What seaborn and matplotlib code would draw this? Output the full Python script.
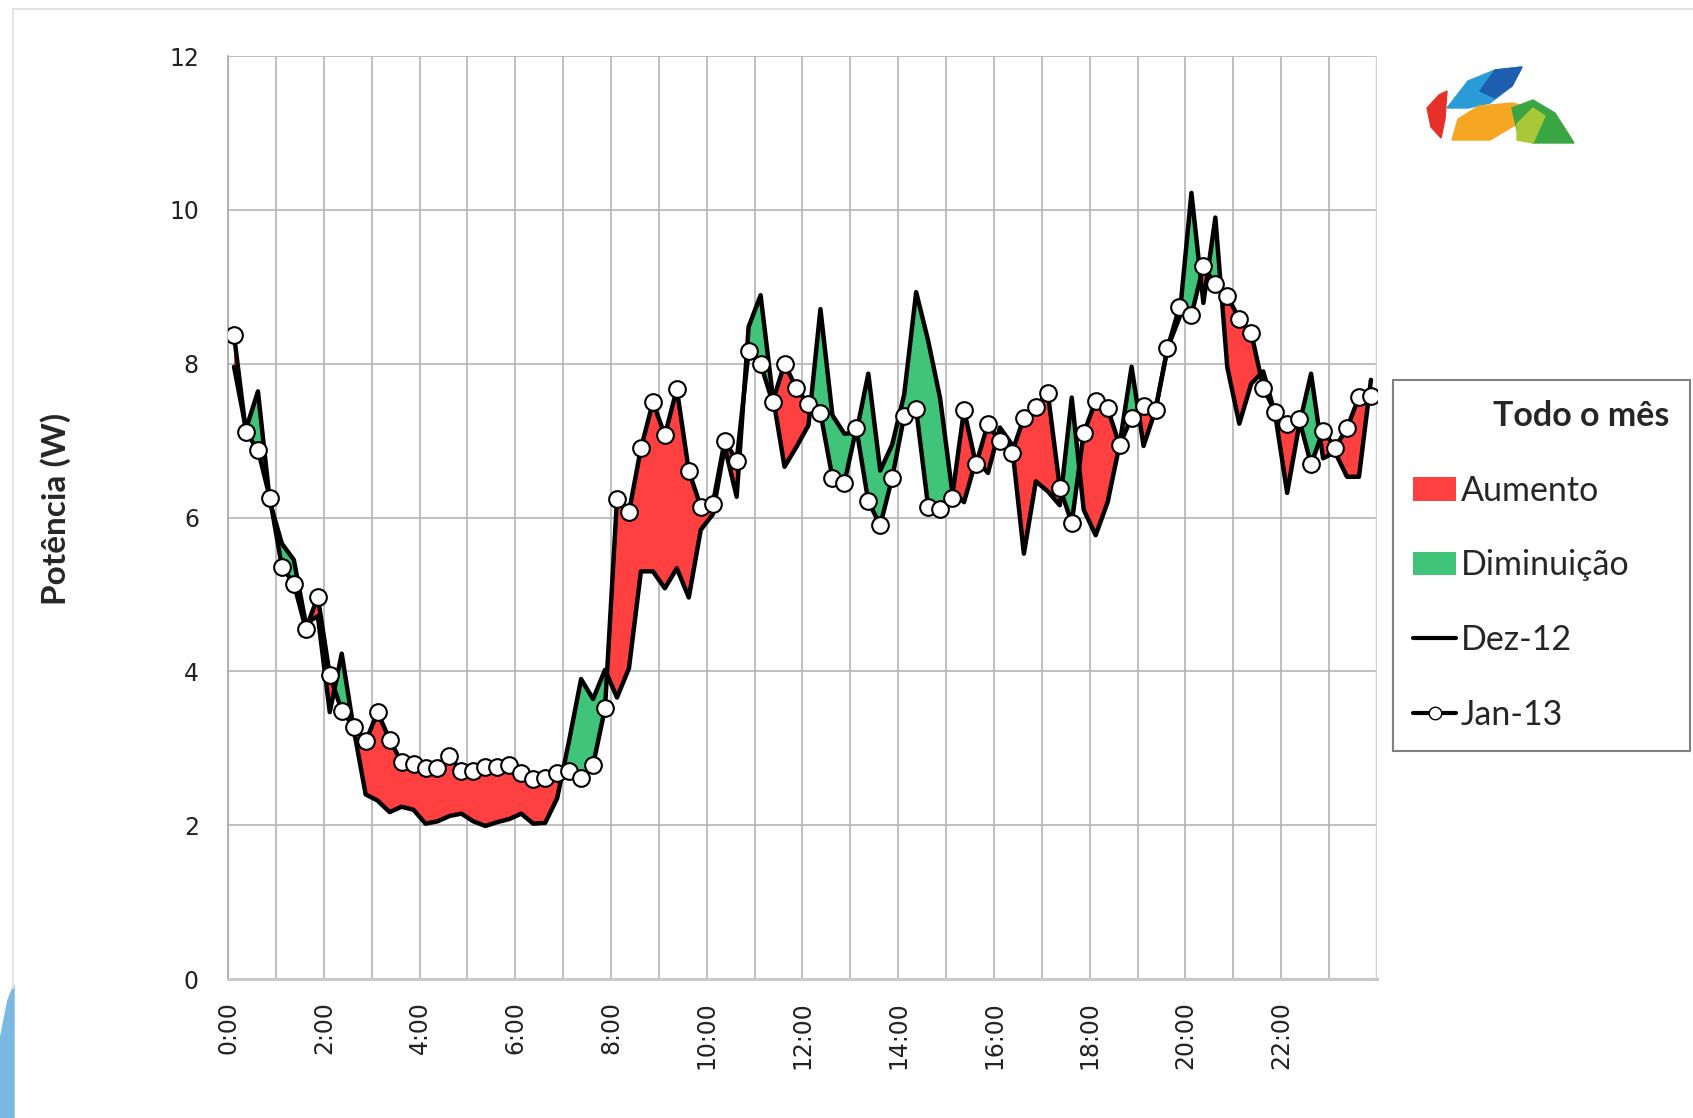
import matplotlib
matplotlib.use("Agg")
import matplotlib.pyplot as plt
import numpy as np
import seaborn as sns
from matplotlib.lines import Line2D
from matplotlib.patches import Patch, Polygon

# 15-minute readings, plotted at the centre of each slot
hours = np.arange(96) / 4 + 0.125

jan13 = [8.37, 7.11, 6.88, 6.25, 5.36, 5.14, 4.55, 4.97, 3.95, 3.49, 3.28, 3.09,
         3.47, 3.11, 2.82, 2.79, 2.74, 2.74, 2.90, 2.70, 2.70, 2.76, 2.76, 2.78,
         2.68, 2.60, 2.62, 2.68, 2.71, 2.61, 2.78, 3.52, 6.24, 6.07, 6.90, 7.50,
         7.07, 7.67, 6.61, 6.14, 6.17, 7.00, 6.74, 8.16, 8.00, 7.50, 8.00, 7.68,
         7.47, 7.36, 6.52, 6.45, 7.16, 6.21, 5.90, 6.52, 7.32, 7.41, 6.14, 6.11,
         6.26, 7.40, 6.69, 7.22, 6.99, 6.84, 7.30, 7.44, 7.62, 6.39, 5.93, 7.10,
         7.51, 7.42, 6.94, 7.30, 7.45, 7.40, 8.20, 8.74, 8.63, 9.27, 9.03, 8.88,
         8.58, 8.40, 7.69, 7.37, 7.22, 7.28, 6.69, 7.13, 6.91, 7.16, 7.57, 7.58]

dez12 = [7.96, 7.15, 7.64, 6.20, 5.66, 5.45, 4.62, 4.72, 3.47, 4.23, 3.25, 2.40,
         2.32, 2.17, 2.24, 2.20, 2.02, 2.05, 2.12, 2.15, 2.05, 1.99, 2.04, 2.08,
         2.15, 2.02, 2.03, 2.35, 3.10, 3.90, 3.64, 4.02, 3.66, 4.04, 5.30, 5.30,
         5.08, 5.34, 4.96, 5.84, 6.04, 6.92, 6.27, 8.48, 8.89, 7.60, 6.66, 6.92,
         7.20, 8.71, 7.33, 7.09, 7.10, 7.87, 6.61, 6.95, 7.60, 8.93, 8.30, 7.55,
         6.35, 6.20, 6.75, 6.58, 7.17, 6.95, 5.53, 6.47, 6.34, 6.16, 7.56, 6.10,
         5.77, 6.20, 6.95, 7.96, 6.93, 7.40, 8.20, 8.60, 10.22, 8.79, 9.90, 7.95,
         7.22, 7.74, 7.90, 7.34, 6.32, 7.20, 7.87, 6.77, 6.85, 6.53, 6.53, 7.79]

tick_hours = list(range(25))
tick_labels = [f"{h}:00" if h % 2 == 0 and h < 24 else "" for h in tick_hours]

red = "#ff4040"
green = "#40c47a"

sns.set_style("white")
plt.rcParams["font.family"] = ["DejaVu Sans"]

fig = plt.figure(figsize=(16.93, 11.18), dpi=100)
ax = fig.add_axes([0.1347, 0.1243, 0.6786, 0.8256])

jan = np.array(jan13)
dez = np.array(dez12)
ax.fill_between(hours, dez, jan, where=jan >= dez, interpolate=True,
                color=red, linewidth=0, zorder=2)
ax.fill_between(hours, dez, jan, where=jan < dez, interpolate=True,
                color=green, linewidth=0, zorder=2)

sns.lineplot(x=hours, y=dez, ax=ax, color="black", linewidth=3.2, zorder=3)
sns.lineplot(x=hours, y=jan, ax=ax, color="black", linewidth=3.2, marker="o",
             markersize=12, markerfacecolor="white", markeredgecolor="black",
             markeredgewidth=1.5, zorder=4)

ax.set_xlim(0, 24)
ax.set_ylim(0, 12)
ax.set_yticks(range(0, 13, 2))
ax.set_xticks(tick_hours)
ax.set_xticklabels(tick_labels, rotation=90)
ax.grid(True, color="#b4b4b4", linewidth=1.2)
ax.set_axisbelow(True)
for side in ["top", "right"]:
    ax.spines[side].set_visible(False)
ax.spines["left"].set_color("#a8a8a8")
ax.spines["left"].set_linewidth(1.2)
ax.spines["bottom"].set_color("#c8c8c8")
ax.spines["bottom"].set_linewidth(2.2)
ax.axvline(24, color="#d0d0d0", linewidth=2.5, zorder=1)
ax.tick_params(axis="y", length=7, width=1, color="#a8a8a8", pad=14,
               labelsize=17, labelcolor="#222222")
ax.tick_params(axis="x", length=10, width=1, color="#a8a8a8", pad=6,
               labelsize=17, labelcolor="#222222")
ax.set_xlabel("")
ax.set_ylabel("")

fig.text(0.033, 0.545, "Potência (W)", rotation=90, ha="center", va="center",
         fontsize=24, fontweight="bold", family=["Lato", "DejaVu Sans"])

handles = [Patch(facecolor=red, edgecolor="none"),
           Patch(facecolor=green, edgecolor="none"),
           Line2D([], [], color="black", linewidth=3),
           Line2D([], [], color="black", linewidth=3, marker="o", markersize=9,
                  markerfacecolor="white", markeredgecolor="black")]
labels = ["Aumento", "Diminuição", "Dez-12", "Jan-13"]
leg = fig.legend(handles, labels, title="Todo o mês",
                 loc="upper left",
                 bbox_to_anchor=(1393 / 1693, 1 - 747 / 1118, 297 / 1693, 367 / 1118),
                 mode="expand", frameon=True, fancybox=False, edgecolor="#808080",
                 framealpha=1,
                 prop={"family": ["Lato", "DejaVu Sans"], "size": 24.5},
                 title_fontproperties={"family": ["Lato", "DejaVu Sans"],
                                       "size": 24.5, "weight": "bold"},
                 alignment="right", handlelength=1.25, handleheight=0.7,
                 handletextpad=0.15, labelspacing=1.25, borderpad=0.6,
                 borderaxespad=0)
leg.get_frame().set_linewidth(1.5)

# logo in the top-right corner
logo = fig.add_axes([1420 / 1693, 1 - 146 / 1118, 160 / 1693, 84 / 1118])
logo.set_xlim(0, 160)
logo.set_ylim(0, 84)
logo.axis("off")
logo.add_patch(Polygon([(19, 51), (27, 55), (25, 27), (21, 8), (11, 19), (7, 38)],
                       color="#e8302a"))
logo.add_patch(Polygon([(27, 38), (48, 65), (75, 76), (102, 79), (92, 60), (70, 43), (48, 38)],
                       color="#2b9bd8"))
logo.add_patch(Polygon([(60, 55), (75, 76), (102, 79), (92, 60), (75, 48)],
                       color="#1d5fae"))
logo.add_patch(Polygon([(32, 6), (38, 27), (59, 40), (92, 43), (113, 38), (97, 22), (70, 6)],
                       color="#f5a623"))
logo.add_patch(Polygon([(92, 38), (113, 46), (135, 33), (154, 3), (113, 3), (97, 16)],
                       color="#3aa543"))
logo.add_patch(Polygon([(97, 22), (113, 38), (125, 30), (113, 3), (97, 6)],
                       color="#a8c83a"))

# light frame and the blue corner shape
fig.add_artist(Line2D([13 / 1693, 13 / 1693, 1], [1 - 988 / 1118, 1 - 9 / 1118, 1 - 9 / 1118],
                      transform=fig.transFigure, color="#e4e4e4", linewidth=1.5))
fig.add_artist(Polygon([(0, 1 - 1040 / 1118), (8 / 1693, 1 - 1000 / 1118),
                        (14 / 1693, 1 - 985 / 1118), (14 / 1693, 0), (0, 0)],
                       closed=True, transform=fig.transFigure, color="#79b9e3"))

fig.savefig("out.png", dpi=100)
